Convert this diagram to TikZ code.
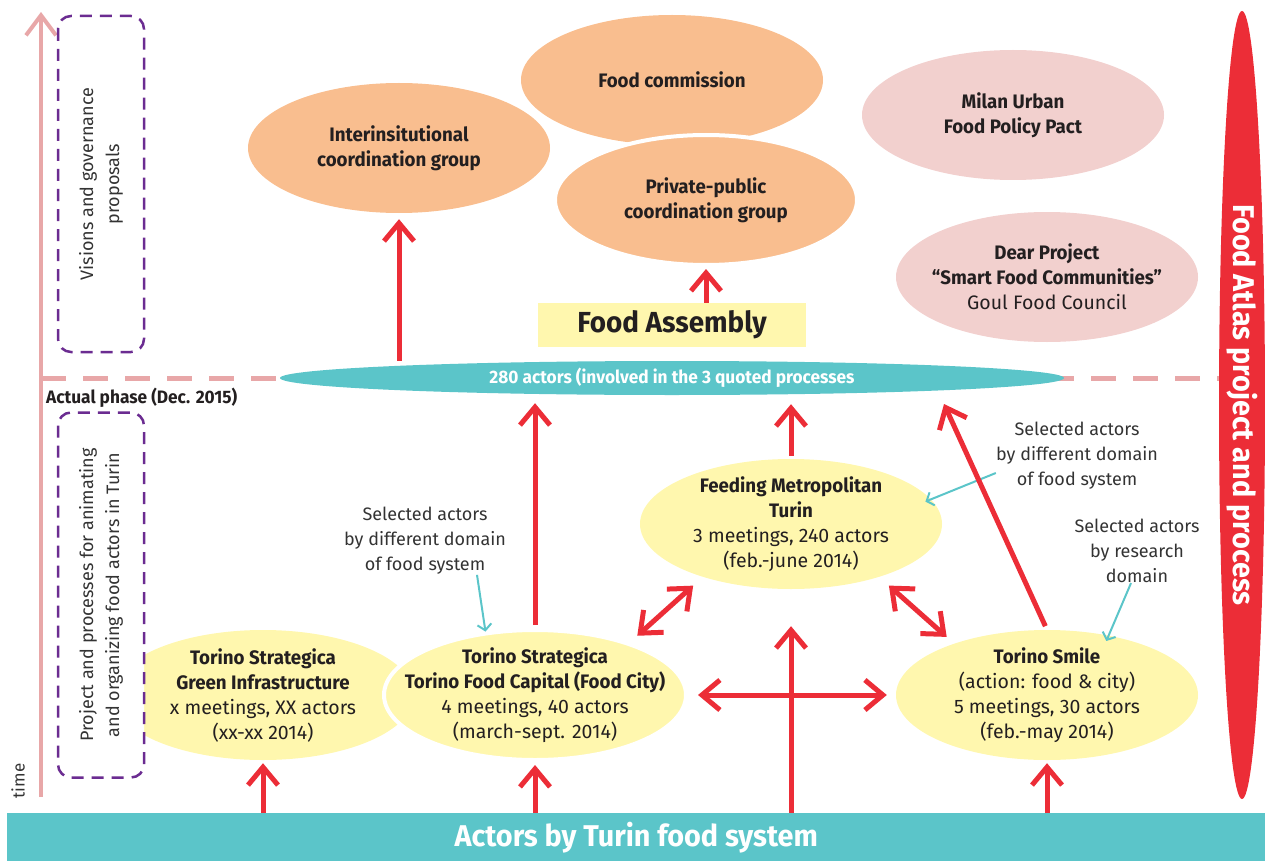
\documentclass[tikz,border=0pt]{standalone}
\usepackage{fontspec}
\setmainfont{Fira Sans}[BoldFeatures={FakeStretch=0.96}]
\usetikzlibrary{arrows.meta,shapes.geometric}

\definecolor{orangeE}{HTML}{F9BE8F}
\definecolor{pinkE}{HTML}{F2D0CE}
\definecolor{yellowE}{HTML}{FFF7AE}
\definecolor{tealE}{HTML}{5BC5C9}
\definecolor{redA}{HTML}{EC2D37}
\definecolor{timeP}{HTML}{E8A7A8}
\definecolor{purpleD}{HTML}{6B2C91}
\definecolor{inkT}{HTML}{231F20}
\definecolor{grayT}{HTML}{333333}

\newcommand\bhd[1]{\textbf{#1}}

\begin{document}
\begin{tikzpicture}[x=1pt,y=-1pt,
  intext/.style={align=center, text=inkT, inner sep=0pt, font=\fontsize{19.5}{25}\selectfont},
  bubble/.style={ellipse, inner sep=0pt, minimum width=302pt, minimum height=130pt},
  orangeb/.style={bubble, fill=orangeE},
  pinkb/.style={bubble, fill=pinkE},
  yellowb/.style={bubble, fill=yellowE},
  cutout/.style={draw=white, line width=4pt},
  dbox/.style={draw=purpleD, fill=white, line width=2.5pt, dash pattern=on 12pt off 8pt,
    rounded corners=13pt, inner sep=0pt, align=center, text=grayT,
    font=\fontsize{18}{26}\selectfont},
  ann/.style={align=center, text=grayT, inner sep=0pt, font=\fontsize{18}{25}\selectfont},
  redarr/.style={draw=redA, line width=5pt, -{Straight Barb[length=18pt,width=30pt]}},
  dblarr/.style={draw=redA, line width=5pt,
    {Straight Barb[length=18pt,width=30pt]}-{Straight Barb[length=18pt,width=30pt]}},
  cyanarr/.style={draw=tealE, line width=2pt, -{Straight Barb[length=6pt,width=14pt]}},
  timearr/.style={draw=timeP, line width=4pt, -{Straight Barb[length=20pt,width=30pt]}},
  phase/.style={draw=timeP, line width=5pt, dash pattern=on 25pt off 17pt},
]
\useasboundingbox (0,0) rectangle (1265,861);

% time axis and the present-day divider
\coordinate (ph0) at (41,378);
\coordinate (ph1) at (1222,378);
\draw[phase] (ph0) -- (ph1);
\coordinate (tb) at (41,797);
\coordinate (tt) at (41,12);
\draw[timearr] (tb) -- (tt);

% governance proposals
\node[orangeb, label={[intext]center:{\bhd{Food commission}}}] (comm) at (672,80) {};
\node[orangeb, label={[intext]center:{\bhd{Interinsitutional}\\\bhd{coordination group}}}] (inter) at (399,148) {};
\node[orangeb, cutout, label={[intext]center:{\bhd{Private-public}\\\bhd{coordination group}}}] (pp) at (706,200) {};
\node[pinkb, label={[intext]center:{\bhd{Milan Urban}\\\bhd{Food Policy Pact}}}] (milan) at (1013,115) {};
\node[pinkb, label={[intext]center:{\bhd{Dear Project}\\\bhd{“Smart Food Communities”}\\Goul Food Council}}] (dear) at (1047,277) {};

\node[fill=yellowE, minimum width=268pt, minimum height=44pt, inner sep=0pt, text=inkT,
  font=\fontsize{29}{32}\selectfont\bfseries] (fa) at (672,325) {Food Assembly};

\node[ellipse, fill=tealE, minimum width=784pt, minimum height=34pt, inner sep=0pt, text=white,
  font=\fontsize{18}{20}\selectfont\bfseries] (teal) at (672,378) {280 actors (involved in the 3 quoted processes};

% processes
\node[yellowb, label={[intext]center:{\bhd{Torino Strategica}\\\bhd{Green Infrastructure}\\x meetings, XX actors\\(xx-xx 2014)}}] (green) at (263,695) {};
\node[yellowb, cutout, label={[intext]center:{\bhd{Torino Strategica}\\\bhd{Torino Food Capital (Food City)}\\4 meetings, 40 actors\\(march-sept. 2014)}}] (fc) at (535,695) {};
\node[yellowb, label={[intext]center:{\bhd{Feeding Metropolitan}\\\bhd{Turin}\\3 meetings, 240 actors\\(feb.-june 2014)}}] (feed) at (791,524) {};
\node[yellowb, label={[intext]center:{\bhd{Torino Smile}\\(action: food \& city)\\5 meetings, 30 actors\\(feb.-may 2014)}}] (smile) at (1047,695) {};

% phase boxes
\node[dbox, rotate=90, minimum width=336pt, minimum height=86pt] (vis) at (101,184)
  {Visions and governance\\proposals};
\node[dbox, rotate=90, minimum width=365pt, minimum height=86pt] (proj) at (101,595)
  {Project and processes for animating\\and organizing food actors in Turin};

% overall project
\node[ellipse, fill=redA, rotate=-90, minimum width=788pt, minimum height=46pt, inner sep=0pt,
  text=white, font=\fontsize{30}{30}\selectfont\bfseries] (atlas) at (1242,405) {Food Atlas project and process};

\node[fill=tealE, anchor=north west, minimum width=1258pt, minimum height=48pt, inner sep=0pt,
  text=white, font=\fontsize{30}{32}\selectfont\bfseries] (bar) at (7,813) {Actors by Turin food system};

\node[anchor=base west, inner sep=0pt, text=inkT, font=\fontsize{18}{20}\selectfont\bfseries]
  (now) at (46,403) {Actual phase (Dec. 2015)};
\node[rotate=90, inner sep=0pt, text=grayT, font=\fontsize{17}{20}\selectfont] (timelbl) at (18,781) {time};

% annotations
\node[ann] (ann1) at (425,541) {Selected actors\\by different domain\\of food system};
\node[ann] (ann2) at (1077,456) {Selected actors\\by different domain\\of food system};
\node[ann] (ann3) at (1137,551) {Selected actors\\by research\\domain};
\draw[cyanarr] ([xshift=52pt]ann1.south) -- (fc.128);
\draw[cyanarr, shorten >=-6pt] ([yshift=-17pt]ann2.west) -- (feed.10);
\draw[cyanarr, shorten >=-6pt] ([xshift=-6pt]ann3.south) -- (smile.44);

% flows between the levels
\draw[redarr, shorten >=6pt] (inter.south |- teal.north) -- (inter.south);
\draw[redarr, shorten >=2pt] (fa.north -| pp.south) -- (pp.south);
\draw[redarr, shorten <=3pt, shorten >=8pt] (fc.north) -- (fc.north |- teal.south);
\draw[redarr, shorten <=3pt, shorten >=9pt] (feed.north) -- (feed.north |- teal.south);
\coordinate (smtip) at (944,404);
\draw[redarr, shorten <=4pt] (smile.north) -- (smtip);
\draw[dblarr, shorten <=13pt, shorten >=10pt] (feed.211) -- (fc.29);
\draw[dblarr, shorten <=13pt, shorten >=10pt] (feed.329) -- (smile.151);
\draw[dblarr, shorten <=10pt, shorten >=9pt] (fc.east) -- (smile.west);
\draw[redarr, shorten >=37pt] (bar.north -| feed.south) -- (feed.south);
\draw[redarr, shorten >=3pt] (bar.north -| green.south) -- (green.south);
\draw[redarr, shorten >=3pt] (bar.north -| fc.south) -- (fc.south);
\draw[redarr, shorten >=3pt] (bar.north -| smile.south) -- (smile.south);
\end{tikzpicture}
\end{document}
